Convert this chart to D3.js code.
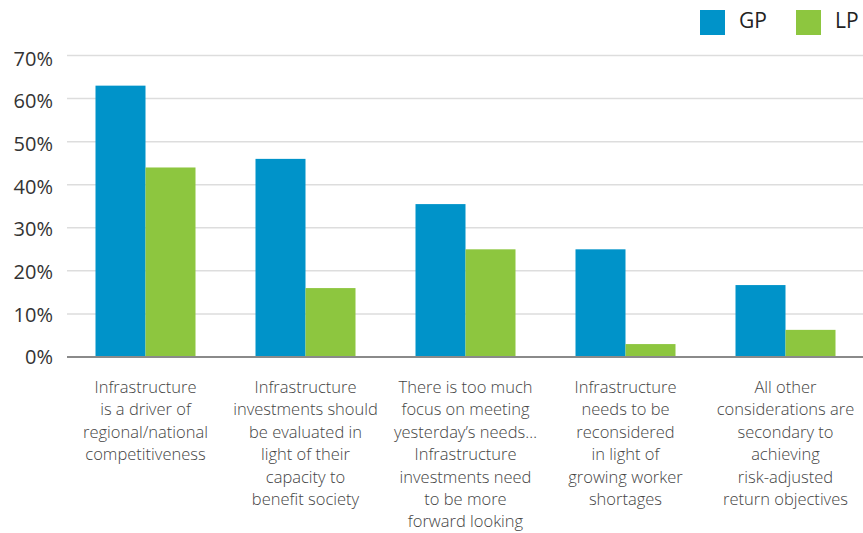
<!DOCTYPE html>
<html>
<head>
<meta charset="utf-8">
<script src="https://cdn.jsdelivr.net/npm/d3@7"></script>
<style>
  html, body { margin: 0; padding: 0; background: #fff; }
  svg { display: block; font-family: "Open Sans", "Noto Sans", sans-serif; }
</style>
</head>
<body>
<svg id="chart" width="863" height="533"></svg>
<script>
// Survey statements (each label is a list of wrapped lines)
const categories = [
  ["Infrastructure", "is a driver of", "regional/national", "competitiveness"],
  ["Infrastructure", "investments should", "be evaluated in", "light of their", "capacity to", "benefit society"],
  ["There is too much", "focus on meeting", "yesterday’s needs…", "Infrastructure", "investments need", "to be more", "forward looking"],
  ["Infrastructure", "needs to be", "reconsidered", "in light of", "growing worker", "shortages"],
  ["All other", "considerations are", "secondary to", "achieving", "risk-adjusted", "return objectives"]
];
const seriesNames = ["GP", "LP"];
const gpValues = [63, 46, 35.5, 25, 16.7];
const lpValues = [44, 16, 25, 3, 6.3];
const yTicks = [0, 10, 20, 30, 40, 50, 60, 70];
const colors = { GP: "#0093c9", LP: "#8dc63f" };

const svg = d3.select("#chart");
const idx = d3.range(categories.length);

const x = d3.scaleBand()
  .domain(idx)
  .range([65.5, 865.5])
  .paddingInner(0.375)
  .paddingOuter(0.1875);

const xInner = d3.scaleBand()
  .domain(seriesNames)
  .range([0, x.bandwidth()]);

const y = d3.scaleLinear()
  .domain([0, 70])
  .range([357, 55.5]);

// horizontal gridlines
svg.append("g")
  .selectAll("line")
  .data(yTicks.filter(d => d > 0))
  .join("line")
  .attr("x1", 67).attr("x2", 863)
  .attr("y1", d => y(d)).attr("y2", d => y(d))
  .attr("stroke", "#dddddd")
  .attr("stroke-width", 1.5);

// y-axis tick labels
svg.append("g")
  .selectAll("text")
  .data(yTicks)
  .join("text")
  .attr("x", 53)
  .attr("y", d => y(d) + 2 + d * 0.04)
  .attr("text-anchor", "end")
  .attr("dominant-baseline", "middle")
  .attr("font-size", 20)
  .attr("fill", "#333")
  .text(d => d + "%");

// bars
const rows = idx.map(i => ({ i, GP: gpValues[i], LP: lpValues[i] }));
const groups = svg.append("g")
  .selectAll("g")
  .data(rows)
  .join("g")
  .attr("transform", d => `translate(${x(d.i)},0)`);

groups.selectAll("rect")
  .data(d => seriesNames.map(k => ({ key: k, value: d[k] })))
  .join("rect")
  .attr("x", d => xInner(d.key))
  .attr("width", xInner.bandwidth())
  .attr("y", d => y(d.value))
  .attr("height", d => y(0) - y(d.value))
  .attr("fill", d => colors[d.key]);

// baseline
svg.append("line")
  .attr("x1", 67).attr("x2", 863)
  .attr("y1", y(0)).attr("y2", y(0))
  .attr("stroke", "#8a8a8a")
  .attr("stroke-width", 2);

// category labels
const labels = svg.append("g")
  .selectAll("text")
  .data(rows)
  .join("text")
  .attr("text-anchor", "middle")
  .attr("font-size", 16.5)
  .attr("font-weight", 300)
  .attr("fill", "#444");

labels.selectAll("tspan")
  .data(d => categories[d.i].map(line => ({ line, cx: x(d.i) + x.bandwidth() / 2 })))
  .join("tspan")
  .attr("x", d => d.cx)
  .attr("y", (d, j) => 393 + j * 22.4)
  .text(d => d.line);

// legend
const legend = svg.append("g")
  .selectAll("g")
  .data(seriesNames)
  .join("g")
  .attr("transform", (d, i) => `translate(${700 + i * 96},10)`);

legend.append("rect")
  .attr("width", 25).attr("height", 25)
  .attr("fill", d => colors[d]);

legend.append("text")
  .attr("x", 39)
  .attr("y", 12.5)
  .attr("dominant-baseline", "middle")
  .attr("font-size", 21)
  .attr("fill", "#222")
  .text(d => d);
</script>
</body>
</html>
